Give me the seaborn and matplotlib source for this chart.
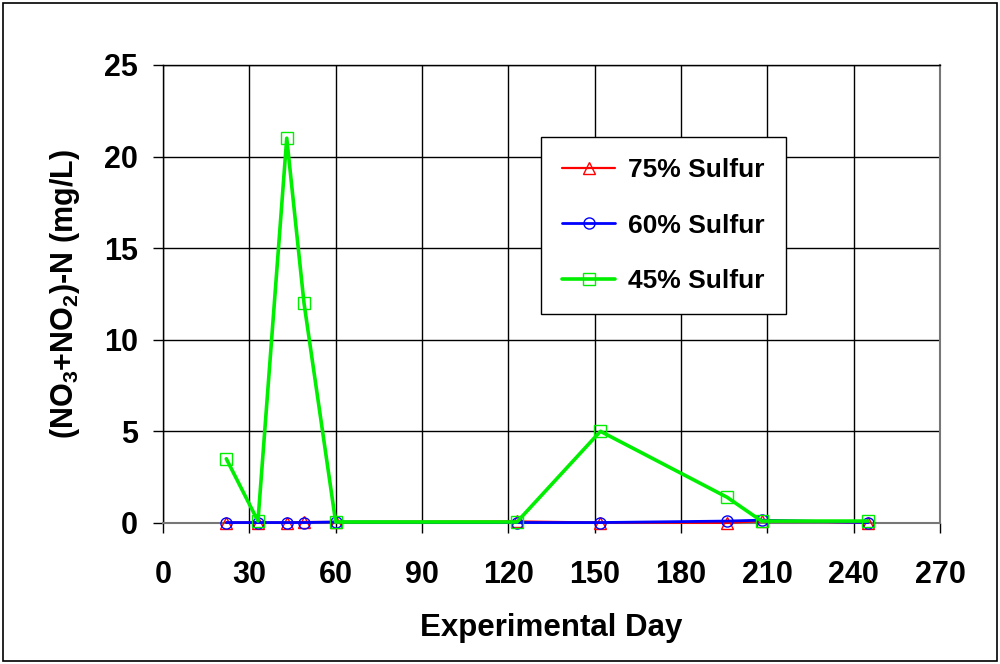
import matplotlib
matplotlib.use("Agg")
import matplotlib.pyplot as plt
import seaborn as sns
import pandas as pd
from matplotlib.patches import Rectangle

days = [22, 33, 43, 49, 60, 123, 152, 196, 208, 245]
s75 = [0.02, 0.02, 0.02, 0.05, 0.05, 0.08, 0.02, 0.0, 0.1, 0.02]
s60 = [0.02, 0.02, 0.02, 0.02, 0.05, 0.02, 0.02, 0.1, 0.15, 0.02]
s45 = [3.5, 0.1, 21.0, 12.0, 0.05, 0.05, 5.0, 1.4, 0.1, 0.1]
series_names = ["75% Sulfur", "60% Sulfur", "45% Sulfur"]
xticks = list(range(0, 271, 30))
yticks = list(range(0, 26, 5))

sns.set_theme(style="white")
plt.rcParams['font.family'] = ['Liberation Sans', 'DejaVu Sans']
plt.rcParams['font.weight'] = 'bold'
plt.rcParams['text.color'] = 'black'
plt.rcParams['axes.labelcolor'] = 'black'
plt.rcParams['xtick.color'] = 'black'
plt.rcParams['ytick.color'] = 'black'
plt.rcParams['mathtext.fontset'] = 'custom'
plt.rcParams['mathtext.rm'] = 'Liberation Sans'
plt.rcParams['mathtext.bf'] = 'Liberation Sans:bold'

fig = plt.figure(figsize=(10, 6.64), dpi=100)
ax = fig.add_axes([0.163, 0.2125, 0.777, 0.6897])

styles = [
    (s75, "#ff0000", "^", 1.6),
    (s60, "#0000ff", "o", 2.0),
    (s45, "#00ee00", "s", 2.6),
]
for (vals, col, mk, lw), name in zip(styles, series_names):
    df = pd.DataFrame({"day": days, "val": vals})
    sns.lineplot(data=df, x="day", y="val", ax=ax, color=col, linewidth=lw,
                 marker=mk, markersize=8, markerfacecolor="none",
                 markeredgecolor=col, markeredgewidth=1.0, label=name,
                 clip_on=False, zorder=3)

ax.set_xlim(0, 270)
ax.set_ylim(0, 25)
ax.set_xticks(xticks)
ax.set_yticks(yticks)
ax.grid(True, color="black", linewidth=1.0)
ax.set_axisbelow(True)
for s in ["left", "top"]:
    ax.spines[s].set_color("black")
    ax.spines[s].set_linewidth(1.0)
for s in ["bottom", "right"]:
    ax.spines[s].set_color("#777777")
    ax.spines[s].set_linewidth(1.5)
ax.tick_params(axis="both", direction="out", length=7, width=1, color="black",
               labelcolor="black", labelsize=22, bottom=True, left=True)
ax.tick_params(axis="x", pad=20)
ax.tick_params(axis="y", pad=11)
for lab in ax.get_xticklabels() + ax.get_yticklabels():
    lab.set_fontweight("bold")
ax.set_xlabel("Experimental Day", fontsize=22.5, fontweight="bold", labelpad=16,
              color="black")
ax.set_ylabel(r"(NO$_\mathregular{3}$+NO$_\mathregular{2}$)-N (mg/L)",
              fontsize=22, fontweight="bold", labelpad=16, color="black")

leg = ax.legend(loc="upper left", bbox_to_anchor=(0.4865, 0.843), frameon=True,
                fancybox=False, edgecolor="black", framealpha=1,
                prop={"size": 19, "weight": "bold"}, labelspacing=1.2,
                borderpad=0.8, handlelength=2.0, handletextpad=0.5,
                borderaxespad=0)
leg.get_frame().set_linewidth(1.0)
for t in leg.get_texts():
    t.set_color("black")

fig.patches.append(Rectangle((0.003, 0.004), 0.994, 0.992, transform=fig.transFigure,
                             fill=False, edgecolor="black", linewidth=1.2))
fig.savefig("out.png", dpi=100, facecolor="white")
